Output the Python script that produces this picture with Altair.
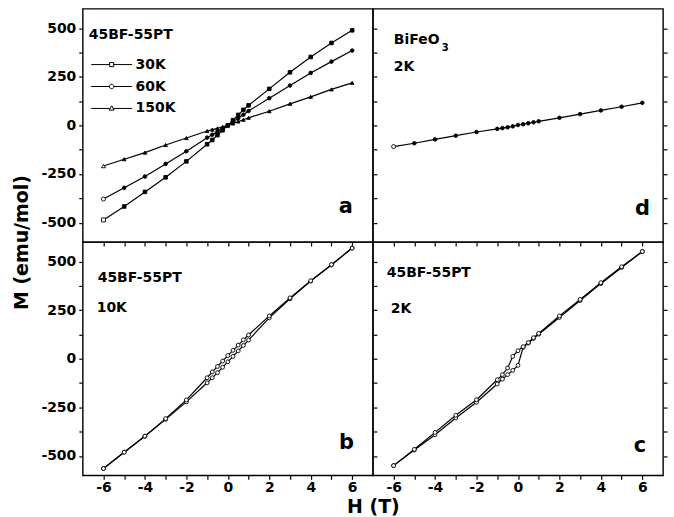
import altair as alt
import pandas as pd

# ---------------- data ----------------
H_FIELD = [-6, -5, -4, -3, -2, -1, -0.75, -0.5, -0.25, 0, 0.25, 0.5, 0.75, 1, 2, 3, 4, 5, 6]
H_DOWN = H_FIELD[::-1]

TEMPS = ["30K", "60K", "150K"]
M_30K = [-486, -417, -342, -267, -185, -97, -75, -50, -25, 0, 27, 54, 80, 103, 188, 273, 352, 424, 489]
M_60K = [-379, -321, -263, -198, -133, -63, -48, -32, -16, 0, 18, 37, 55, 74, 140, 205, 270, 328, 385]
M_150K = [-209, -174, -140, -101, -65, -29, -22, -15, -7, 0, 10, 20, 29, 39, 73, 111, 147, 185, 219]

M_BFO = [-109, -92, -72, -53, -34, -18, -14, -10, -5, 2, 6, 11, 16, 21, 39, 58, 77, 96, 116]

M_10K_UP = [-565, -481, -399, -312, -222, -124, -98, -72, -44, -16, 12, 40, 68, 96, 210, 308, 399, 482, 569]
M_10K_DOWN = [569, 484, 401, 313, 220, 122, 97, 70, 43, 16, -12, -40, -68, -98, -212, -308, -398, -481, -565]

M_2K_UP = [-550, -470, -391, -305, -224, -130, -105, -82, -60, -34, 58, 80, 104, 126, 212, 299, 386, 469, 551]
M_2K_DOWN = [551, 473, 391, 305, 220, 130, 108, 83, 62, 41, 12, -48, -82, -108, -211, -291, -379, -466, -550]

X_TICKS = [-6, -5, -4, -3, -2, -1, 0, 1, 2, 3, 4, 5, 6]
Y_TICKS = [-500, -375, -250, -125, 0, 125, 250, 375, 500]


def frame(parts):
    rows = []
    for hs, ms, lab in parts:
        for i, (h, m) in enumerate(zip(hs, ms)):
            rows.append({"H": h, "M": m, "S": lab, "i": i})
    return pd.DataFrame(rows)


df_a = frame([(H_FIELD, M_30K, "30K"), (H_FIELD, M_60K, "60K"), (H_FIELD, M_150K, "150K")])
df_d = frame([(H_FIELD, M_BFO, "BFO")])
df_b = frame([(H_FIELD, M_10K_UP, "up"), (H_DOWN, M_10K_DOWN, "down")])
df_c = frame([(H_FIELD, M_2K_UP, "up"), (H_DOWN, M_2K_DOWN, "down")])
dummy = pd.DataFrame({"k": [0]})

# ---------------- styling ----------------
FONT = "DejaVu Sans"
W, HT = 291, 234
XS = alt.Scale(domain=[-7, 7], nice=False, zero=False)
YS = alt.Scale(domain=[-600, 600], nice=False, zero=False)
TICK = dict(tickSize=4, tickWidth=1.2, tickColor="black", domain=False, grid=False)
LAB = dict(labelFont=FONT, labelFontSize=14, labelFontWeight="bold", labelColor="black",
           labelOverlap=False, labelFlush=False)
VIEW = alt.ViewBackground(stroke="black", strokeWidth=1.4)


def xaxis(labels, title=None):
    d = dict(orient="bottom", values=X_TICKS, **TICK)
    if labels:
        d.update(labels=True, labelExpr="datum.value % 2 == 0 ? '' + datum.value : ''",
                 labelPadding=1, **LAB)
    else:
        d.update(labels=False)
    if title:
        d.update(title=title, titleX=W, titleY=37, titleAlign="center", titleBaseline="alphabetic",
                 titleFont=FONT, titleFontSize=19, titleFontWeight="bold", titleColor="black")
    else:
        d.update(title=None)
    return alt.Axis(**d)


def yaxis_left(title=None):
    d = dict(orient="left", values=Y_TICKS, labels=True,
             labelExpr="datum.value % 250 == 0 ? '' + datum.value : ''", labelPadding=3, **TICK, **LAB)
    if title:
        d.update(title=title, titleX=-61, titleY=HT, titleAngle=270, titleAlign="center",
                 titleBaseline="middle", titleFont=FONT, titleFontSize=19, titleFontWeight="bold",
                 titleColor="black")
    else:
        d.update(title=None)
    return alt.Axis(**d)


YAX_RIGHT = alt.Axis(orient="right", values=Y_TICKS, labels=False, title=None, **TICK)


def txt(s, x, y, size=14, align="left"):
    return alt.Chart(dummy).mark_text(font=FONT, fontWeight="bold", fontSize=size, align=align,
                                      baseline="alphabetic", color="black").encode(
        x=alt.value(x), y=alt.value(y), text=alt.value(s))


def line_layer(df, xax, yax):
    return alt.Chart(df).mark_line(color="black", strokeWidth=1.2).encode(
        x=alt.X("H:Q", scale=XS, axis=xax),
        y=alt.Y("M:Q", scale=YS, axis=yax),
        detail="S:N", order="i:Q")


def pts_layer(df, flt, xax, yax, shape, size, fill, stroke_w=0.9):
    return alt.Chart(df).transform_filter(flt).mark_point(
        shape=shape, size=size, filled=True, fill=fill, stroke="black", strokeWidth=stroke_w, opacity=1
    ).encode(x=alt.X("H:Q", scale=XS, axis=xax), y=alt.Y("M:Q", scale=YS, axis=yax))


# ---------------- panel a ----------------
xa_top = xaxis(False)
SHAPES = {"30K": "square", "60K": "circle", "150K": "triangle-up"}
layers_a = [line_layer(df_a, xa_top, yaxis_left("M (emu/mol)"))]
first = True
for t in TEMPS:
    layers_a.append(pts_layer(df_a, f"datum.S == '{t}' && datum.i > 0", xa_top,
                              YAX_RIGHT if first else None, SHAPES[t], 13, "black"))
    layers_a.append(pts_layer(df_a, f"datum.S == '{t}' && datum.i == 0", xa_top, None,
                              SHAPES[t], 16, "white"))
    first = False

# legend symbols: a line with a small open marker in the middle (path spans -2..2)
LEG_PATHS = [
    "M-2,0L-0.2,0M0.2,0L2,0M-0.2,-0.2L0.2,-0.2L0.2,0.2L-0.2,0.2Z",
    "M-2,0L-0.22,0M0.22,0L2,0M0.22,0A0.22,0.22,0,1,1,-0.22,0A0.22,0.22,0,1,1,0.22,0Z",
    "M-2,0L-0.2,0M0.2,0L2,0M0,-0.26L0.24,0.16L-0.24,0.16Z",
]
legend_layer = alt.Chart(df_a).transform_filter("datum.H > 100").mark_point(
    filled=False, color="black", strokeWidth=1, opacity=1
).encode(
    x=alt.X("H:Q", scale=XS, axis=xa_top),
    y=alt.Y("M:Q", scale=YS, axis=None),
    shape=alt.Shape("S:N", scale=alt.Scale(domain=TEMPS, range=LEG_PATHS),
                    legend=alt.Legend(title=None, orient="none", legendX=18, legendY=45,
                                      labelFont=FONT, labelFontSize=14, labelFontWeight="bold",
                                      labelColor="black", symbolSize=420, symbolStrokeColor="black",
                                      symbolStrokeWidth=1, symbolOpacity=1,
                                      rowPadding=4, labelOffset=13, padding=0)),
)
layers_a += [legend_layer, txt("45BF-55PT", 6, 30), txt("a", 271, 205, 21, "right")]
panel_a = alt.layer(*layers_a).resolve_axis(y="independent").properties(width=W, height=HT, view=VIEW)

# ---------------- panel d ----------------
layers_d = [
    line_layer(df_d, xa_top, None),
    pts_layer(df_d, "datum.i > 0", xa_top, YAX_RIGHT, "circle", 13, "black"),
    pts_layer(df_d, "datum.i == 0", xa_top, None, "circle", 16, "white"),
    txt("BiFeO", 21, 35), txt("3", 69, 42, 10), txt("2K", 21, 62),
    txt("d", 278, 207, 21, "right"),
]
panel_d = alt.layer(*layers_d).resolve_axis(y="independent").properties(width=W, height=HT, view=VIEW)

# ---------------- panel b ----------------
xb = xaxis(True, "H (T)")
layers_b = [
    line_layer(df_b, xb, yaxis_left()),
    pts_layer(df_b, "true", xb, YAX_RIGHT, "circle", 15, "white"),
    txt("45BF-55PT", 15, 40), txt("10K", 14, 70),
    txt("b", 272, 208, 21, "right"),
]
panel_b = alt.layer(*layers_b).resolve_axis(y="independent").properties(width=W, height=HT, view=VIEW)

# ---------------- panel c ----------------
xc = xaxis(True)
layers_c = [
    line_layer(df_c, xc, None),
    pts_layer(df_c, "true", xc, YAX_RIGHT, "circle", 15, "white"),
    txt("45BF-55PT", 14, 35), txt("2K", 18, 71),
    txt("c", 274, 211, 21, "right"),
]
panel_c = alt.layer(*layers_c).resolve_axis(y="independent").properties(width=W, height=HT, view=VIEW)

chart = alt.concat(panel_a, panel_d, panel_b, panel_c, columns=2, spacing=0, bounds="flush").properties(
    padding={"left": 12, "top": 7, "right": 5, "bottom": 0},
    background="white",
).configure_view(stroke="black", strokeWidth=1.4)

chart.save("out.html", embed_options={"renderer": "svg", "actions": False})
